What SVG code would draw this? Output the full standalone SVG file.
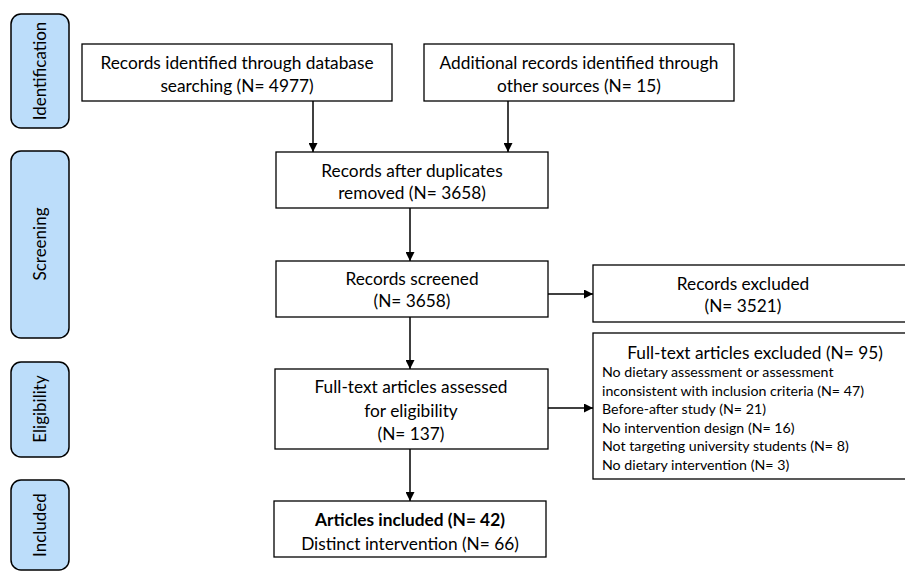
<svg xmlns="http://www.w3.org/2000/svg" width="905" height="573" viewBox="0 0 905 573">
<defs>
<marker id="ah" viewBox="0 0 10 10" refX="10" refY="5" markerWidth="9" markerHeight="9" markerUnits="userSpaceOnUse" orient="auto">
<path d="M0,0 L10,5 L0,10 Z" fill="#000"/>
</marker>
<style>
.box{fill:#fff;stroke:#000;stroke-width:1.3}
.side{fill:#BCDDFA;stroke:#000;stroke-width:1.5}
.t{font-family:Lato,"Liberation Sans",sans-serif;font-size:17.3px;fill:#000;text-anchor:middle}
.s{font-family:Lato,"Liberation Sans",sans-serif;font-size:14.2px;fill:#000}
.lab{font-family:Lato,"Liberation Sans",sans-serif;font-size:17px;fill:#000;text-anchor:middle}
.c{stroke:#000;stroke-width:1.5;fill:none;marker-end:url(#ah)}
</style>
</defs>
<g id="phase-identification"><rect class="side" x="11" y="14" width="58" height="114" rx="10"/><text class="lab" transform="translate(46,71) rotate(-90)">Identification</text></g>
<g id="phase-screening"><rect class="side" x="11" y="151" width="58" height="187" rx="10"/><text class="lab" transform="translate(46,244) rotate(-90)">Screening</text></g>
<g id="phase-eligibility"><rect class="side" x="11" y="362" width="58" height="95" rx="10"/><text class="lab" transform="translate(46,409) rotate(-90)">Eligibility</text></g>
<g id="phase-included"><rect class="side" x="11" y="480" width="58" height="90" rx="10"/><text class="lab" transform="translate(46,525) rotate(-90)">Included</text></g>

<g id="db-search"><rect class="box" x="82" y="44" width="310" height="57"/><text class="t" x="237" y="69">Records identified through database</text><text class="t" x="237" y="92">searching (N= 4977)</text></g>
<g id="other-sources"><rect class="box" x="424" y="44" width="310" height="57"/><text class="t" x="579" y="69">Additional records identified through</text><text class="t" x="579" y="92">other sources (N= 15)</text></g>
<g id="after-duplicates"><rect class="box" x="276" y="152" width="272" height="56"/><text class="t" x="412" y="177">Records after duplicates</text><text class="t" x="412" y="199">removed (N= 3658)</text></g>
<g id="screened"><rect class="box" x="276" y="261" width="272" height="56"/><text class="t" x="412" y="285">Records screened</text><text class="t" x="412" y="307">(N= 3658)</text></g>
<g id="excluded"><rect class="box" x="593" y="265" width="320" height="57"/><text class="t" x="743" y="290">Records excluded</text><text class="t" x="743" y="312">(N= 3521)</text></g>
<g id="assessed"><rect class="box" x="275" y="369" width="273" height="80"/><text class="t" x="411" y="393">Full-text articles assessed</text><text class="t" x="411" y="417">for eligibility</text><text class="t" x="411" y="440">(N= 137)</text></g>
<g id="ft-excluded"><rect class="box" x="593" y="333" width="320" height="146"/><text class="t" x="755" y="359">Full-text articles excluded (N= 95)</text>
<text class="s" x="602" y="377">No dietary assessment or assessment</text>
<text class="s" x="602" y="396">inconsistent with inclusion criteria (N= 47)</text>
<text class="s" x="602" y="414">Before-after study (N= 21)</text>
<text class="s" x="602" y="433">No intervention design (N= 16)</text>
<text class="s" x="602" y="451">Not targeting university students (N= 8)</text>
<text class="s" x="602" y="470">No dietary intervention (N= 3)</text></g>
<g id="included"><rect class="box" x="274" y="501" width="272" height="56"/><text class="t" x="410" y="526" font-weight="bold">Articles included (N= 42)</text><text class="t" x="410" y="550">Distinct intervention (N= 66)</text></g>

<g id="connectors">
<line class="c" x1="313" y1="101" x2="313" y2="152"/>
<line class="c" x1="508" y1="101" x2="508" y2="152"/>
<line class="c" x1="410" y1="208" x2="410" y2="261"/>
<line class="c" x1="410" y1="317" x2="410" y2="369"/>
<line class="c" x1="410" y1="449" x2="410" y2="501"/>
<line class="c" x1="548" y1="294" x2="593" y2="294"/>
<line class="c" x1="548" y1="408" x2="593" y2="408"/>
</g>
</svg>
